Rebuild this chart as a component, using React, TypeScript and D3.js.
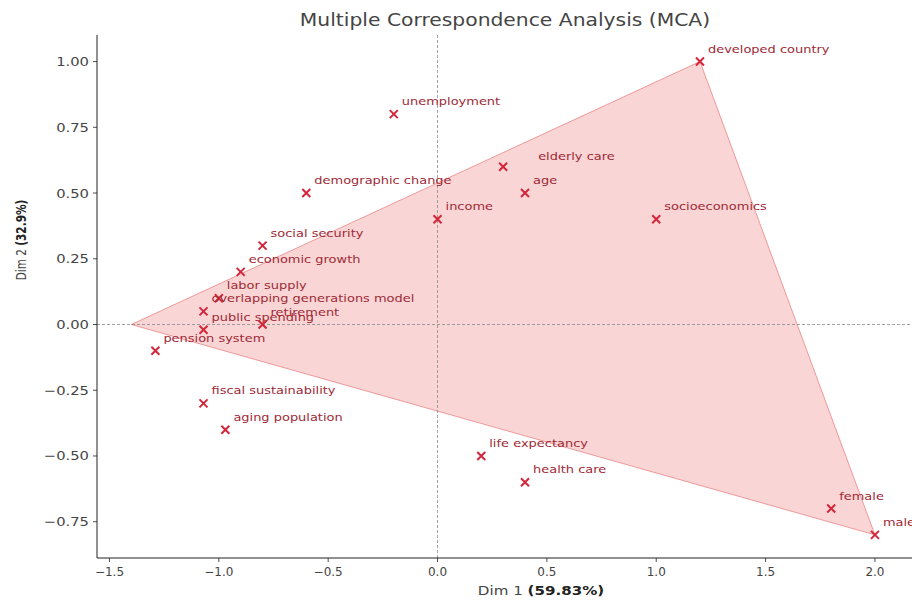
import React from 'react';
import * as d3 from 'd3';

const terms = [
  'developed country', 'unemployment', 'elderly care', 'age', 'demographic change',
  'income', 'socioeconomics', 'social security', 'economic growth', 'labor supply',
  'overlapping generations model', 'public spending', 'retirement', 'pension system',
  'fiscal sustainability', 'aging population', 'life expectancy', 'health care',
  'female', 'male',
];
const dim1 = [1.2, -0.2, 0.3, 0.4, -0.6, 0.0, 1.0, -0.8, -0.9, -1.0, -1.07, -1.07, -0.8, -1.29, -1.07, -0.97, 0.2, 0.4, 1.8, 2.0];
const dim2 = [1.0, 0.8, 0.6, 0.5, 0.5, 0.4, 0.4, 0.3, 0.2, 0.1, 0.05, -0.02, 0.0, -0.1, -0.3, -0.4, -0.5, -0.6, -0.7, -0.8];

const hullX = [-1.4, 1.2, 2.0];
const hullY = [0.0, 1.0, -0.8];

const xTicks = [-1.5, -1.0, -0.5, 0.0, 0.5, 1.0, 1.5, 2.0];
const yTicks = [-0.75, -0.5, -0.25, 0.0, 0.25, 0.5, 0.75, 1.0];

const title = 'Multiple Correspondence Analysis (MCA)';
const xLabelMain = 'Dim 1 ';
const xLabelPct = '(59.83%)';
const yLabelMain = 'Dim 2 ';
const yLabelPct = '(32.9%)';

const W = 912;
const H = 602;
const left = 97, right = 913, top = 35, bottom = 558;
const stretch = 1.18;

const nudge: Record<string, [number, number]> = {
  'elderly care': [35, -11],
};

const fmtMinus = (s: string) => s.replace('-', '\u2212');

export default function App() {
  const x = d3.scaleLinear().domain([-1.557, 2.174]).range([left, right]);
  const y = d3.scaleLinear().domain([-0.888, 1.101]).range([bottom, top]);
  const line = d3.line<number>().x((_, i) => x(hullX[i])).y((_, i) => y(hullY[i]));
  const hullPath = line(hullX) + 'Z';
  const font = 'DejaVu Sans, sans-serif';
  const markerColor = '#d3263a';
  const textColor = '#9e2a36';
  const tickColor = '#444';
  const s = 4;

  return (
    <svg width={W} height={H} style={{ position: 'absolute', left: 0, top: 0, background: '#fff' }} fontFamily={font}>
      <rect x={0} y={0} width={W} height={H} fill="#fff" />
      {/* hull */}
      <path d={hullPath} fill="#f08080" fillOpacity={0.33} stroke="#e87878" strokeOpacity={0.7} strokeWidth={1} />
      {/* reference lines */}
      <line x1={left} x2={right} y1={y(0)} y2={y(0)} stroke="#888" strokeWidth={0.8} strokeDasharray="3,2" />
      <line x1={x(0)} x2={x(0)} y1={top} y2={bottom} stroke="#888" strokeWidth={0.8} strokeDasharray="3,2" />
      {/* points */}
      {terms.map((t, i) => {
        const px = x(dim1[i]);
        const py = y(dim2[i]);
        const [dx, dy] = nudge[t] || [8, -13];
        return (
          <g key={t}>
            <path d={`M${px - s},${py - s}L${px + s},${py + s}M${px - s},${py + s}L${px + s},${py - s}`} stroke={markerColor} strokeWidth={2} />
            <text transform={`translate(${px + dx},${py + dy + 4}) scale(${stretch},1)`} fontSize={11} fill={textColor}>{t}</text>
          </g>
        );
      })}
      {/* spines */}
      <line x1={left} x2={left} y1={top} y2={bottom} stroke="#222" strokeWidth={1} />
      <line x1={left} x2={right} y1={bottom} y2={bottom} stroke="#222" strokeWidth={1} />
      {/* x ticks */}
      {xTicks.map((v) => (
        <g key={'x' + v}>
          <line x1={x(v)} x2={x(v)} y1={bottom} y2={bottom + 4} stroke="#222" strokeWidth={0.8} />
          <text x={x(v)} y={bottom + 18} fontSize={12} fill={tickColor} textAnchor="middle">{fmtMinus(d3.format('.1f')(v))}</text>
        </g>
      ))}
      {/* y ticks */}
      {yTicks.map((v) => (
        <g key={'y' + v}>
          <line x1={left - 4} x2={left} y1={y(v)} y2={y(v)} stroke="#222" strokeWidth={0.8} />
          <text transform={`translate(${left - 8},${y(v) + 4.5}) scale(${stretch},1)`} fontSize={12.5} fill={tickColor} textAnchor="end">{fmtMinus(d3.format('.2f')(v))}</text>
        </g>
      ))}
      {/* title */}
      <text transform={`translate(${(left + right) / 2},26) scale(${stretch},1)`} fontSize={17.2} fill="#444" textAnchor="middle">{title}</text>
      {/* x label */}
      <text transform={`translate(541,595) scale(${stretch},1)`} fontSize={12.8} fill={tickColor} textAnchor="middle">
        {xLabelMain}<tspan fontWeight="bold" fill="#222">{xLabelPct}</tspan>
      </text>
      {/* y label */}
      <text transform={`translate(26,240) scale(1.3,1) rotate(-90)`} fontSize={10.5} fill={tickColor} textAnchor="middle">
        {yLabelMain}<tspan fontWeight="bold" fill="#222">{yLabelPct}</tspan>
      </text>
    </svg>
  );
}
